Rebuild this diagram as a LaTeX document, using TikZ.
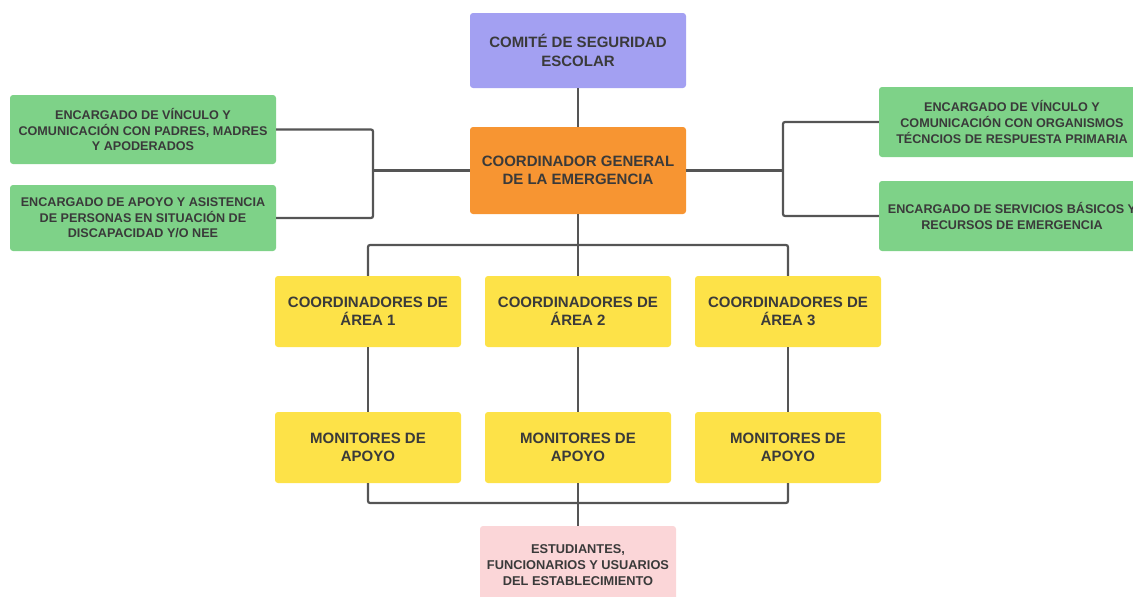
\documentclass[tikz,border=0pt]{standalone}
\usepackage{fontspec}
\setmainfont{Liberation Sans}
\definecolor{morado}{RGB}{163,160,242}
\definecolor{naranjo}{RGB}{247,149,50}
\definecolor{verde}{RGB}{126,210,136}
\definecolor{amarillo}{RGB}{253,226,72}
\definecolor{rosado}{RGB}{251,214,216}
\definecolor{texto}{RGB}{58,58,58}
\definecolor{linea}{RGB}{85,85,85}
\tikzset{
  caja/.style={rounded corners=3pt, inner sep=0pt, align=center, text=texto,
    font=\bfseries\fontsize{15}{18.5}\selectfont},
  chica/.style={caja, font=\bfseries\fontsize{12.6}{15.7}\selectfont},
  conector/.style={draw=linea, line width=2.2pt, rounded corners=2pt}
}
\begin{document}
\begin{tikzpicture}[x=1pt, y=-1pt]
    \useasboundingbox (0,0) rectangle (1133,597);

    % Comité y coordinador general
    \node[caja, fill=morado, minimum width=216pt, minimum height=75pt] (comite) at (578,50.5) {COMITÉ DE SEGURIDAD\\ESCOLAR};
    \node[caja, fill=naranjo, minimum width=216pt, minimum height=87pt] (general) at (578,170.5) {COORDINADOR GENERAL\\DE LA EMERGENCIA};

    % Encargados a la izquierda
    \node[chica, fill=verde, minimum width=266pt, minimum height=69pt] (padres) at (143,129.5) {ENCARGADO DE VÍNCULO Y\\COMUNICACIÓN CON PADRES, MADRES\\Y APODERADOS};
    \node[chica, fill=verde, minimum width=266pt, minimum height=66pt] (apoyo) at (143,218) {ENCARGADO DE APOYO Y ASISTENCIA\\DE PERSONAS EN SITUACIÓN DE\\DISCAPACIDAD Y/O NEE};

    % Encargados a la derecha
    \node[chica, fill=verde, minimum width=266pt, minimum height=70pt] (organismos) at (1012,122) {ENCARGADO DE VÍNCULO Y\\COMUNICACIÓN CON ORGANISMOS\\TÉCNCIOS DE RESPUESTA PRIMARIA};
    \node[chica, fill=verde, minimum width=266pt, minimum height=70pt] (servicios) at (1012,216) {ENCARGADO DE SERVICIOS BÁSICOS Y\\RECURSOS DE EMERGENCIA};

    % Coordinadores de área y monitores
    \foreach \i/\x in {1/368,2/578,3/788} {
        \node[caja, fill=amarillo, minimum width=186pt, minimum height=71pt] (area\i) at (\x,311.5) {COORDINADORES DE\\ÁREA \i};
        \node[caja, fill=amarillo, minimum width=186pt, minimum height=71pt] (monitor\i) at (\x,447.5) {MONITORES DE\\APOYO};
    }

    % Estudiantes
    \node[chica, fill=rosado, minimum width=196pt, minimum height=78pt, font=\bfseries\fontsize{12.8}{15.8}\selectfont] (estudiantes) at (578,565) {ESTUDIANTES,\\FUNCIONARIOS Y USUARIOS\\DEL ESTABLECIMIENTO};

    % Puntos de union
    \coordinate (union izq) at (373,170.5);
    \coordinate (union der) at (783,170.5);
    \coordinate (bus areas) at (578,245);
    \coordinate (bus monitores) at (578,503);

    % Conectores
    \draw[conector] (comite) -- (general);
    \draw[conector] (padres.east) -| (union izq) |- (apoyo.east);
    \draw[conector] (union izq) -- (general.west);
    \draw[conector] (organismos.west) -| (union der) |- (servicios.west);
    \draw[conector] (union der) -- (general.east);
    \draw[conector] (general) -- (bus areas);
    \draw[conector] (area1.north) |- (bus areas) -| (area3.north);
    \draw[conector] (bus areas) -- (area2.north);
    \foreach \i in {1,2,3}
        \draw[conector] (area\i) -- (monitor\i);
    \draw[conector] (monitor1.south) |- (bus monitores) -| (monitor3.south);
    \draw[conector] (monitor2) -- (estudiantes);

\end{tikzpicture}
\end{document}
